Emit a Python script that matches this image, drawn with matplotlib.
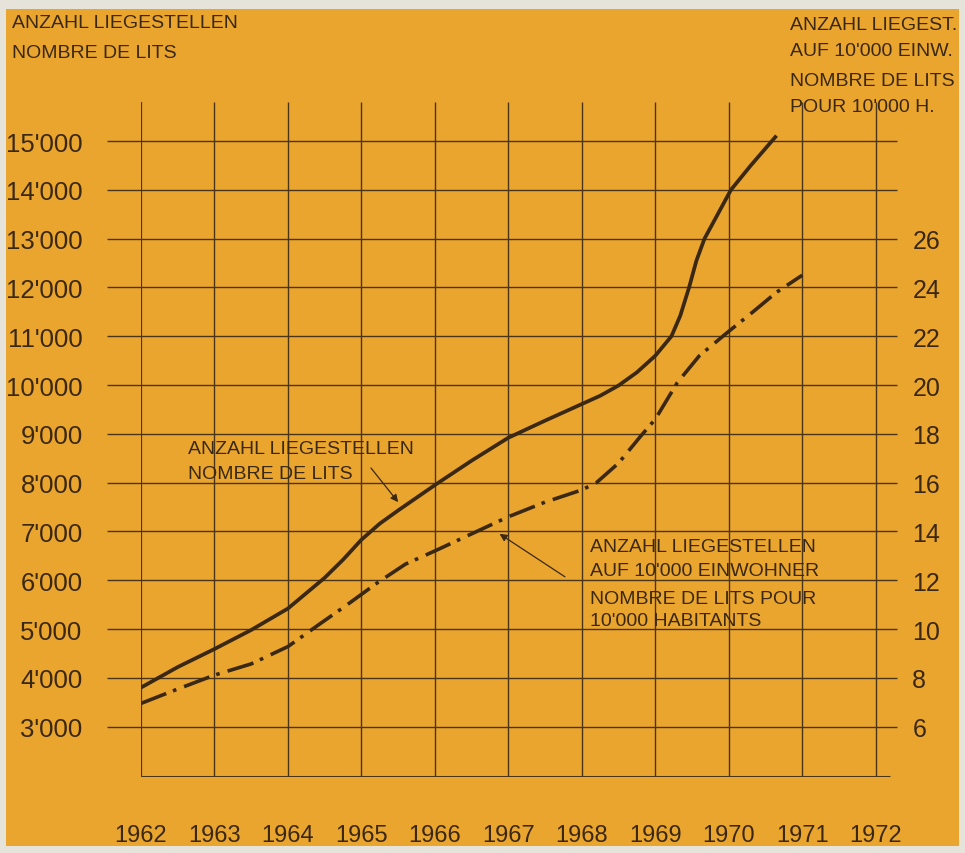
import matplotlib
matplotlib.use("Agg")
import matplotlib.pyplot as plt
from matplotlib.patches import Rectangle

font = "Liberation Sans"

# données
years = list(range(1962, 1973))
y_ticks = list(range(3000, 16000, 1000))
r_ticks = list(range(6, 27, 2))

beds_x = [1962, 1962.5, 1963, 1963.5, 1964, 1964.5, 1964.75, 1965, 1965.25, 1965.5,
          1966, 1966.5, 1967, 1967.5, 1968, 1968.25, 1968.5, 1968.75, 1969, 1969.22,
          1969.34, 1969.46, 1969.56, 1969.67, 1969.85, 1970.03, 1970.3, 1970.65]
beds = [3800, 4220, 4590, 4980, 5420, 6050, 6420, 6830, 7160, 7430,
        7950, 8450, 8920, 9270, 9610, 9780, 9990, 10260, 10600, 11000,
        11420, 12000, 12550, 13000, 13500, 14000, 14500, 15110]

rate_x = [1962, 1962.5, 1963, 1963.5, 1964, 1964.43, 1964.79, 1965.22, 1965.6, 1966,
          1966.5, 1967, 1967.5, 1968, 1968.2, 1968.5, 1968.8, 1969, 1969.3, 1969.6,
          1970, 1970.33, 1970.65, 1971]
rate = [6.95, 7.54, 8.11, 8.57, 9.28, 10.2, 10.96, 11.9, 12.66, 13.2,
        13.9, 14.6, 15.2, 15.7, 16.0, 16.8, 17.9, 18.6, 20.1, 21.2,
        22.2, 23.0, 23.8, 24.5]

orange = "#eaa52f"
ink = "#3a2812"
grid_c = "#4a3518"

W, H = 965, 854
fig = plt.figure(figsize=(W / 100, H / 100), dpi=100, facecolor="#e6e3da")
fig.patches.append(Rectangle((6 / W, 1 - 847 / H), 953 / W, 837 / H,
                             transform=fig.transFigure, facecolor=orange,
                             edgecolor="none", zorder=-10))

ax = fig.add_axes([141 / W, 1 - 778 / H, 756 / W, 675 / H])
ax.set_facecolor("none")
x0, x1 = 1962, 1972.29
y0, y1 = 1967, 15800
ax.set_xlim(x0, x1)
ax.set_ylim(y0, y1)
for s in ax.spines.values():
    s.set_visible(False)

# quadrillage
ax.hlines(y_ticks, 1961.54, x1, color=grid_c, lw=1.0, clip_on=False, zorder=1)
ax.vlines(years[1:], y0, y1, color=grid_c, lw=1.0, zorder=1)
ax.vlines([1962], y0, y1, color=grid_c, lw=1.6, zorder=1)
ax.hlines([y0], 1962, 1972.2, color=grid_c, lw=2.2, zorder=1)

# courbes
ax.plot(beds_x, beds, color=ink, lw=2.7, solid_capstyle="butt",
        solid_joinstyle="round", zorder=3)
ax.plot(rate_x, [r * 500 for r in rate], color=ink, lw=2.6,
        linestyle=(0, (7.5, 2.0, 1.0, 2.3)), dash_capstyle="butt", zorder=3)

# axes
ax.set_xticks(years)
ax.set_xticklabels([str(y) for y in years], family=font, size=17, color=ink)
ax.set_yticks(y_ticks)
ax.set_yticklabels([f"{v // 1000}'{v % 1000:03d}" for v in y_ticks],
                   family=font, size=18.5, color=ink)
ax.tick_params(axis="x", length=0, pad=34)
ax.tick_params(axis="y", length=0, pad=42)

ax2 = ax.twinx()
ax2.set_ylim(y0 / 500, y1 / 500)
for s in ax2.spines.values():
    s.set_visible(False)
ax2.set_yticks(r_ticks)
ax2.set_yticklabels([str(v) for v in r_ticks], family=font, size=18, color=ink)
ax2.tick_params(axis="y", length=0, pad=11)

# textes
def ftext(x, y, s):
    fig.text(x / W, 1 - y / H, s, family=font, size=14, color=ink,
             ha="left", va="center")

ftext(12, 23, "ANZAHL LIEGESTELLEN")
ftext(12, 53, "NOMBRE DE LITS")
ftext(790, 25, "ANZAHL LIEGEST.")
ftext(790, 51, "AUF 10'000 EINW.")
ftext(790, 82, "NOMBRE DE LITS")
ftext(790, 107, "POUR 10'000 H.")

ftext(188, 450, "ANZAHL LIEGESTELLEN")
ftext(188, 475, "NOMBRE DE LITS")
ftext(590, 548, "ANZAHL LIEGESTELLEN")
ftext(590, 572, "AUF 10'000 EINWOHNER")
ftext(590, 600, "NOMBRE DE LITS POUR")
ftext(590, 621, "10'000 HABITANTS")

arrow = dict(arrowstyle="-|>", color=ink, lw=0.9, mutation_scale=11,
             shrinkA=0, shrinkB=0)
ax.annotate("", xy=(1965.5, 7600), xytext=(1965.13, 8300), arrowprops=arrow)
ax.annotate("", xy=(1966.88, 6950), xytext=(1967.77, 6070), arrowprops=arrow)

fig.savefig("out.png", dpi=100, facecolor=fig.get_facecolor())
